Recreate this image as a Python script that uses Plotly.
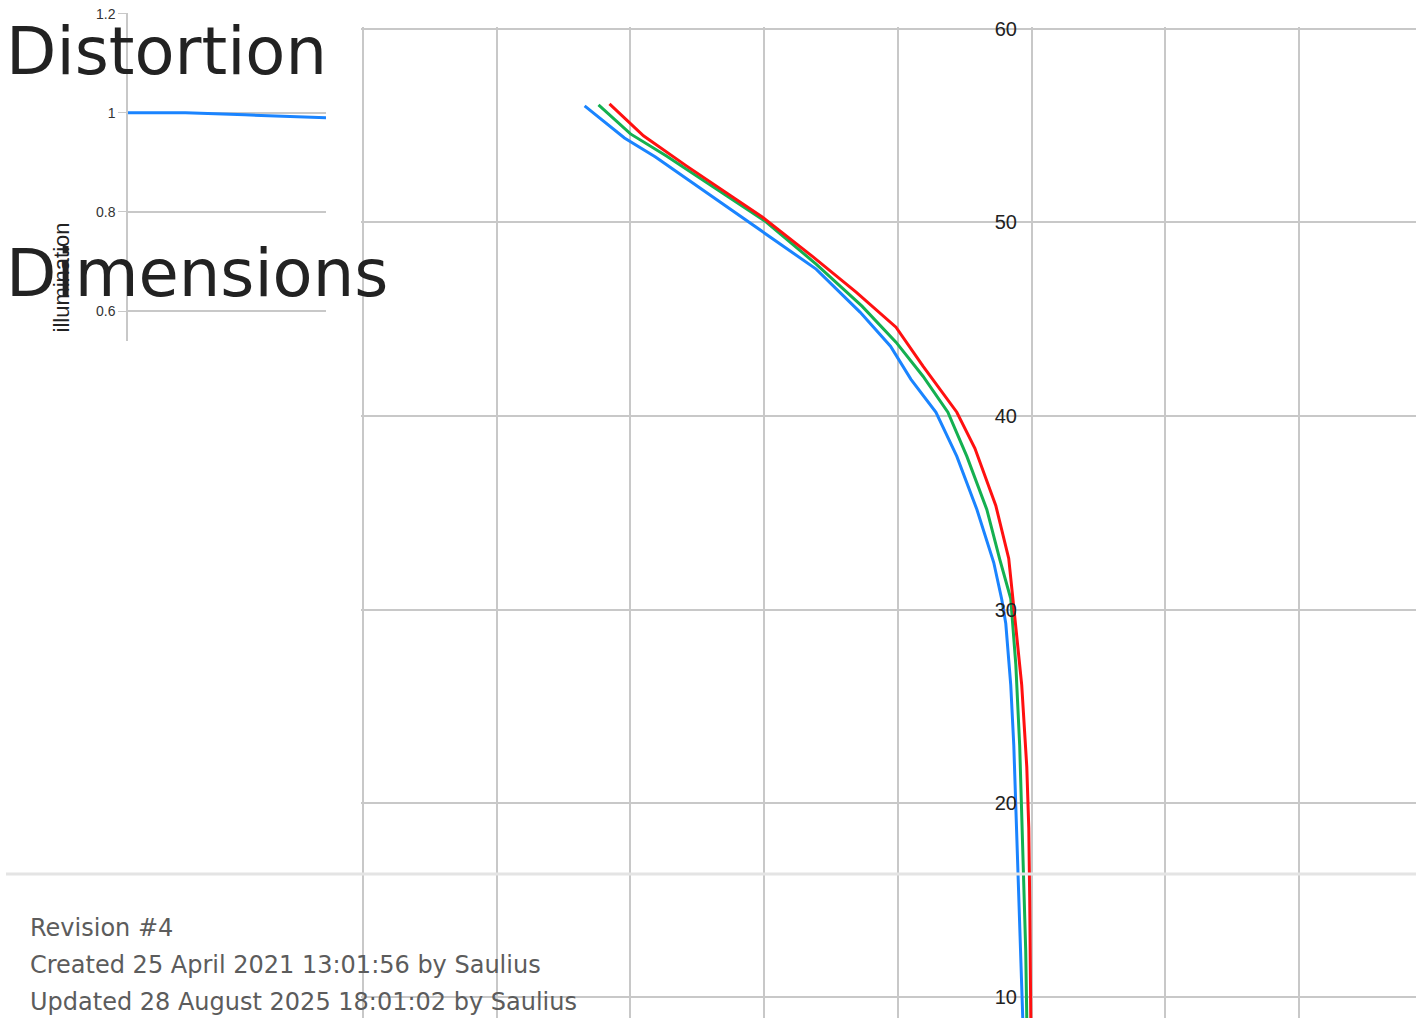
import plotly.graph_objects as go

W, H = 1416, 1018

# main chart curves (x in grid units, y on the 10..60 scale)
blue_x = [1.657, 1.955, 2.187, 2.530, 2.985, 3.388, 3.716, 3.944, 4.097, 4.284, 4.440,
          4.590, 4.716, 4.776, 4.806, 4.843, 4.866, 4.881, 4.896, 4.918, 4.933]
blue_y = [56.02, 54.36, 53.38, 51.73, 49.56, 47.59, 45.37, 43.61, 41.90, 40.20, 37.92,
          35.18, 32.44, 30.53, 29.29, 26.13, 22.98, 19.77, 16.62, 12.43, 8.91]

green_x = [1.761, 2.000, 2.269, 2.612, 3.015, 3.388, 3.731, 3.985, 4.187, 4.373, 4.515,
           4.664, 4.761, 4.843, 4.881, 4.910, 4.925, 4.940, 4.955, 4.963]
green_y = [56.07, 54.57, 53.43, 51.88, 50.02, 47.85, 45.68, 43.82, 42.06, 40.20, 37.92,
           35.18, 32.60, 30.58, 27.17, 22.98, 19.77, 16.62, 12.43, 8.91]

red_x = [1.843, 2.097, 2.418, 2.985, 3.358, 3.687, 3.985, 4.187, 4.440, 4.575, 4.731,
         4.828, 4.866, 4.925, 4.963, 4.978, 4.985, 4.993]
red_y = [56.12, 54.47, 52.92, 50.28, 48.26, 46.40, 44.59, 42.58, 40.20, 38.34, 35.39,
         32.65, 30.11, 26.13, 21.89, 18.74, 15.02, 8.91]

# small illumination inset
illum_x = [0.0, 0.29, 0.59, 1.0]
illum_y = [1.0, 1.0, 0.996, 0.99]
illum_ticks = [0.6, 0.8, 1.0, 1.2]

main_ticks = [10, 20, 30, 40, 50, 60]

footer_lines = [
    "Revision #4",
    "Created 25 April 2021 13:01:56 by Saulius",
    "Updated 28 August 2025 18:01:02 by Saulius",
]

GRID = "#c8c8c8"


def px(x):
    return x / W


def py(y):
    # page renders ~10px lower and ~1% squashed vertically; compensate
    y_in = (y - 10.3) / 0.9897
    return 1 - y_in / H


fig = go.Figure()
for xs, ys, color in ((blue_x, blue_y, "#1a84ff"), (green_x, green_y, "#14b050"),
                      (red_x, red_y, "#ff1010")):
    fig.add_trace(go.Scatter(x=xs, y=ys, mode="lines", line=dict(color=color, width=3),
                             xaxis="x", yaxis="y", hoverinfo="skip"))

fig.add_trace(go.Scatter(x=illum_x, y=illum_y, mode="lines",
                         line=dict(color="#1a84ff", width=3),
                         xaxis="x2", yaxis="y2", hoverinfo="skip"))

fig.update_layout(
    width=W, height=H,
    margin=dict(l=0, r=0, t=0, b=0),
    paper_bgcolor="white", plot_bgcolor="white",
    showlegend=False,
    xaxis=dict(domain=[px(361), 1], range=[-2 / 134, 1055 / 134], dtick=1, tick0=0,
               showgrid=True, gridcolor=GRID, gridwidth=2, showticklabels=False,
               zeroline=False, showline=False, ticks=""),
    yaxis=dict(domain=[0, py(28)], range=[8.925, 60 + 2 / 19.34], tickvals=main_ticks,
               showgrid=True, gridcolor=GRID, gridwidth=2, zeroline=False,
               anchor="free", position=px(1032), side="left", ticks="",
               ticklabelstandoff=15,
               tickfont=dict(family="Liberation Sans", size=20, color="#222")),
    xaxis2=dict(domain=[px(128), px(326)], range=[0, 1], anchor="y2",
                showgrid=False, showticklabels=False, zeroline=False, ticks=""),
    yaxis2=dict(domain=[py(342), py(14)], range=[0.6 - 30 / 495, 1.2 + 1 / 495], anchor="x2",
                tickvals=illum_ticks, showgrid=True, gridcolor=GRID, gridwidth=1.5,
                zeroline=False, showline=True, linecolor=GRID, linewidth=1.5,
                ticks="outside", ticklen=8, tickcolor=GRID,
                tickfont=dict(family="Liberation Sans", size=14, color="#333")),
)

fig.add_annotation(x=px(47), y=py(222), xref="paper", yref="paper", text="illumination",
                   textangle=-90, showarrow=False,
                   font=dict(family="Liberation Sans", size=22, color="#222"))

for text, ycen in (("Distortion", 52), ("Dimensions", 274)):
    fig.add_annotation(x=px(4), y=py(ycen), xref="paper", yref="paper", text=text,
                       xanchor="left", yanchor="middle", showarrow=False,
                       font=dict(family="DejaVu Sans", size=65.5, color="#222"))

# footer separator drawn over the chart
fig.add_shape(type="line", xref="paper", yref="paper", x0=px(6), x1=1, y0=py(874),
              y1=py(874), line=dict(color="#e4e4e4", width=3), layer="above")

for i, text in enumerate(footer_lines):
    fig.add_annotation(x=px(28), y=py(928 + 37 * i), xref="paper", yref="paper",
                       text=text, xanchor="left", yanchor="middle", showarrow=False,
                       font=dict(family="DejaVu Sans", size=24, color="#5c5c5c"))

fig.write_html("out.html", config={"displayModeBar": False},
               post_script="document.body.style.margin='0';")
